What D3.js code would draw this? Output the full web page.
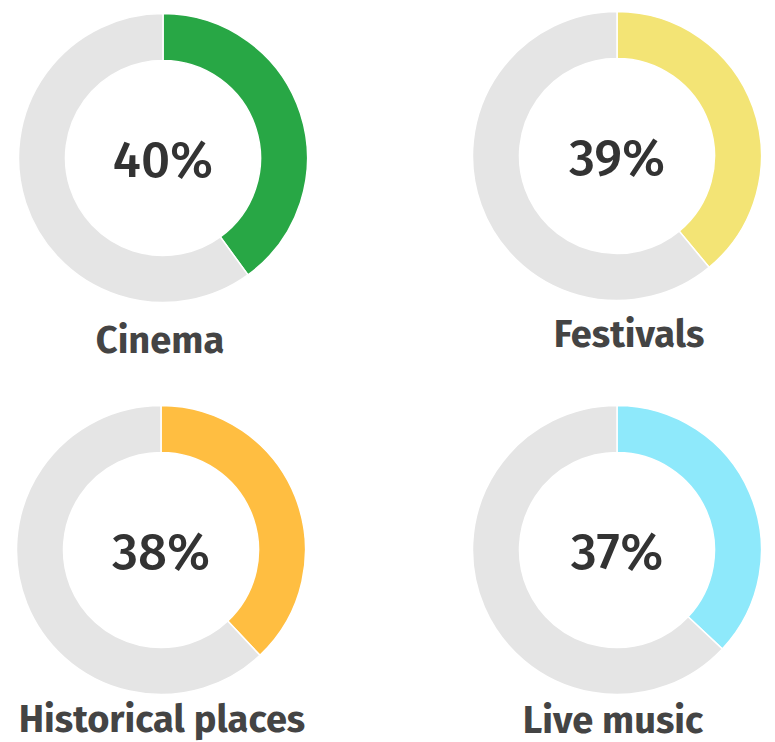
<!DOCTYPE html>
<html>
<head>
<meta charset="utf-8">
<script src="https://cdn.jsdelivr.net/npm/d3@7"></script>
<style>
  body { margin: 0; background: #fff; }
  svg { display: block; }
</style>
</head>
<body>
<div id="wrapper"></div>
<script>
// Data
const categories = ["Cinema", "Festivals", "Historical places", "Live music"];
const percentages = [40, 39, 38, 37];
const colors = ["#28a745", "#f3e475", "#ffbe41", "#8ee9fb"];

// Layout for each panel (donut centre and label position)
const layout = [
    {cx: 163, cy: 158, lx: 160, ly: 353},
    {cx: 617, cy: 156, lx: 629, ly: 347},
    {cx: 161, cy: 550, lx: 162, ly: 732},
    {cx: 617, cy: 550, lx: 613, ly: 733},
];

const dimensions = {width: 775, height: 742, outerRadius: 144.5, innerRadius: 97.5};

const svg = d3.select("#wrapper")
    .append("svg")
    .attr("width", dimensions.width)
    .attr("height", dimensions.height);

const pie = d3.pie().sort(null).value(d => d);
const arc = d3.arc()
    .innerRadius(dimensions.innerRadius)
    .outerRadius(dimensions.outerRadius);

categories.forEach((name, i) => {
    const pos = layout[i];
    const g = svg.append("g")
        .attr("transform", `translate(${pos.cx},${pos.cy})`);

    g.selectAll("path")
        .data(pie([percentages[i], 100 - percentages[i]]))
        .join("path")
        .attr("d", arc)
        .attr("fill", (d, j) => j === 0 ? colors[i] : "#e5e5e5")
        .attr("stroke", "#fff")
        .attr("stroke-width", 1.5);

    g.append("text")
        .attr("text-anchor", "middle")
        .attr("y", 19)
        .style("font-family", "'Fira Sans', 'Open Sans', sans-serif")
        .style("font-weight", 500)
        .style("font-size", "51px")
        .attr("fill", "#333")
        .text(`${percentages[i]}%`);

    svg.append("text")
        .attr("x", pos.lx)
        .attr("y", pos.ly)
        .attr("text-anchor", "middle")
        .style("font-family", "'Fira Sans', 'Open Sans', sans-serif")
        .style("font-weight", 700)
        .style("font-size", "38px")
        .attr("fill", "#444")
        .text(name);
});
</script>
</body>
</html>
